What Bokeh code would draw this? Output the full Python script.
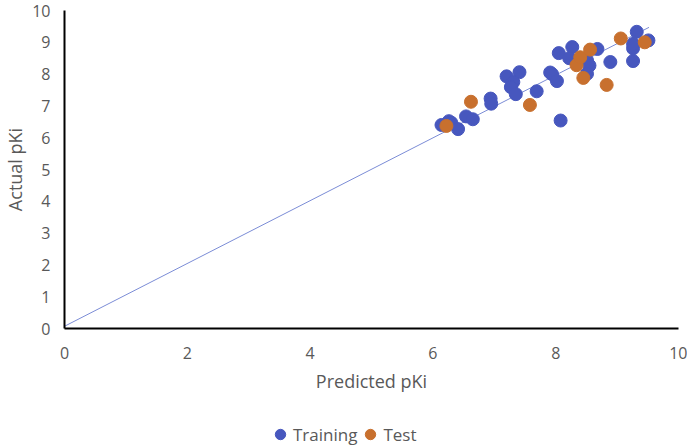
from bokeh.plotting import figure
from bokeh.layouts import column
from bokeh.models import Range1d, FixedTicker, Legend, LegendItem
from bokeh.embed import file_html
from bokeh.resources import INLINE

train_pred = [6.14, 6.26, 6.30, 6.41, 6.54, 6.65, 6.94, 6.95, 7.20, 7.41, 7.31, 7.27, 7.35,
              7.69, 7.91, 7.94, 8.02, 8.05, 8.27, 8.22, 8.08, 8.51, 8.55, 8.51, 8.68, 8.89,
              9.26, 9.26, 9.26, 9.32, 9.51]
train_act = [6.40, 6.52, 6.47, 6.27, 6.67, 6.58, 7.23, 7.07, 7.93, 8.06, 7.75, 7.59, 7.37,
             7.46, 8.05, 8.00, 7.78, 8.66, 8.85, 8.50, 6.54, 8.43, 8.27, 8.01, 8.79, 8.38,
             8.41, 8.81, 8.95, 9.33, 9.06]
test_pred = [6.22, 6.62, 7.58, 8.34, 8.40, 8.45, 8.56, 8.83, 9.06, 9.45]
test_act = [6.37, 7.13, 7.03, 8.28, 8.53, 7.88, 8.77, 7.66, 9.12, 9.00]
trend_x = [0.0, 9.52]
trend_y = [0.07, 9.47]
x_ticks = [0, 2, 4, 6, 8, 10]
y_ticks = [0, 1, 2, 3, 4, 5, 6, 7, 8, 9, 10]
series_names = ["Training", "Test"]

BLUE = "#4757BE"
ORANGE = "#C8702E"
GRAY = "#595959"
FONT = "Open Sans"
W = 687
NAN = float("nan")

p = figure(width=W, height=420, output_backend="svg", toolbar_location=None,
           x_range=Range1d(0, 10), y_range=Range1d(0, 10),
           min_border_left=64, min_border_right=9, min_border_top=10, min_border_bottom=92)
p.outline_line_color = None
p.grid.visible = False

p.line(trend_x, trend_y, line_color="#7B8CD6", line_width=1)
p.scatter(train_pred, train_act, size=13, fill_color=BLUE, line_color=BLUE)
p.scatter(test_pred, test_act, size=13, fill_color=ORANGE, line_color=ORANGE)

for ax in (p.xaxis[0], p.yaxis[0]):
    ax.axis_line_color = "black"
    ax.axis_line_width = 2
    ax.major_tick_line_color = None
    ax.minor_tick_line_color = None
    ax.major_label_text_color = GRAY
    ax.major_label_text_font = FONT
    ax.major_label_text_font_size = "16px"
    ax.axis_label_text_color = GRAY
    ax.axis_label_text_font = FONT
    ax.axis_label_text_font_size = "18px"
    ax.axis_label_text_font_style = "normal"

p.xaxis[0].ticker = FixedTicker(ticks=x_ticks)
p.yaxis[0].ticker = FixedTicker(ticks=y_ticks)
p.xaxis[0].axis_label = "Predicted pKi"
p.yaxis[0].axis_label = "Actual pKi"
p.xaxis[0].major_label_standoff = 12
p.xaxis[0].axis_label_standoff = 7
p.yaxis[0].major_label_standoff = 8
p.yaxis[0].axis_label_standoff = 2

# legend strip below the chart
lg = figure(width=W, height=28, output_backend="svg", toolbar_location=None,
            x_range=Range1d(0, 1), y_range=Range1d(0, 1),
            min_border=0)
lg.outline_line_color = None
lg.grid.visible = False
lg.axis.visible = False
d_train = lg.scatter([NAN], [NAN], fill_color=BLUE, line_color=BLUE)
d_test = lg.scatter([NAN], [NAN], fill_color=ORANGE, line_color=ORANGE)
legend = Legend(items=[LegendItem(label=series_names[0], renderers=[d_train]),
                       LegendItem(label=series_names[1], renderers=[d_test])],
                orientation="horizontal", location=(203, 1),
                border_line_color=None, background_fill_alpha=0,
                label_text_font=FONT, label_text_font_size="17px", label_text_color=GRAY,
                glyph_width=26, glyph_height=26, label_standoff=-12, spacing=-6,
                padding=0, margin=0)
lg.add_layout(legend, "center")

layout = column(p, lg, spacing=0)
open("out.html", "w").write(file_html(layout, INLINE))
